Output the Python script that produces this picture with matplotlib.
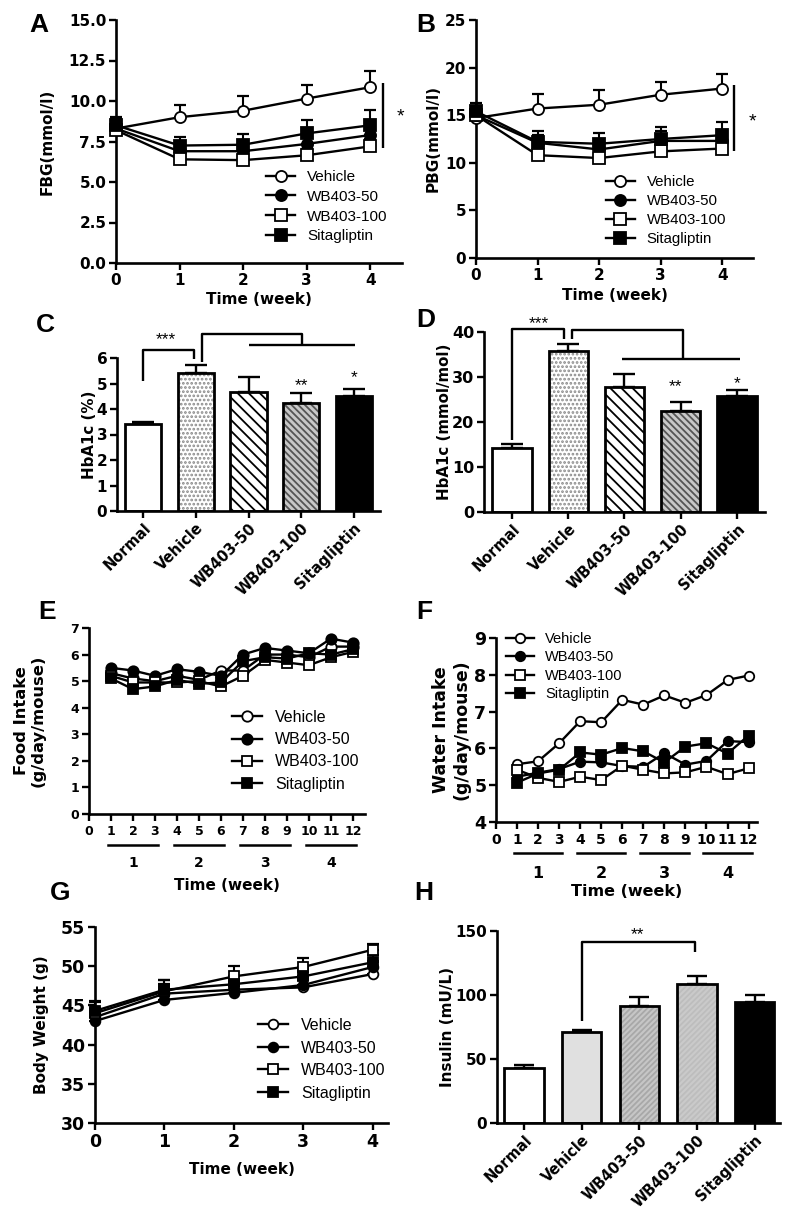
import matplotlib
matplotlib.use("Agg")
import matplotlib.pyplot as plt
from matplotlib.transforms import blended_transform_factory


plt.rcParams["font.family"] = ["DejaVu Sans"]
plt.rcParams["font.weight"] = "bold"
plt.rcParams["axes.labelweight"] = "bold"
plt.rcParams["hatch.linewidth"] = 1.3

W, H = 787, 1220
ARIAL = "Liberation Sans"

# ------------------------------------------------------------
# Data
# ------------------------------------------------------------
GROUPS = ["Vehicle", "WB403-50", "WB403-100", "Sitagliptin"]
BAR_GROUPS = ["Normal", "Vehicle", "WB403-50", "WB403-100", "Sitagliptin"]
WEEKS = [0, 1, 2, 3, 4]
DAYS = list(range(1, 13))

# A: fasting blood glucose (mmol/l)
FBG_MEAN = [
    [8.3, 9.0, 9.4, 10.15, 10.85],
    [8.3, 6.9, 6.9, 7.35, 7.9],
    [8.2, 6.4, 6.35, 6.65, 7.2],
    [8.5, 7.25, 7.3, 8.0, 8.5],
]
FBG_ERR = [
    [0.6, 0.75, 0.9, 0.85, 1.0],
    [0.4, 0.4, 0.5, 0.55, 0.6],
    [0.3, 0.3, 0.35, 0.4, 0.45],
    [0.5, 0.5, 0.65, 0.85, 0.95],
]

# B: postprandial blood glucose (mmol/l)
PBG_MEAN = [
    [14.7, 15.7, 16.1, 17.15, 17.8],
    [15.0, 12.1, 11.4, 12.3, 12.3],
    [15.0, 10.8, 10.5, 11.2, 11.5],
    [15.4, 12.2, 12.0, 12.5, 12.9],
]
PBG_ERR = [
    [0.8, 1.5, 1.5, 1.3, 1.5],
    [0.7, 0.8, 0.9, 1.0, 1.1],
    [0.6, 0.5, 0.6, 0.7, 0.7],
    [0.9, 1.1, 1.15, 1.25, 1.35],
]

# C / D: HbA1c
HBA1C_PCT = [3.42, 5.42, 4.67, 4.23, 4.51]
HBA1C_PCT_ERR = [0.08, 0.3, 0.6, 0.38, 0.28]
HBA1C_MMOL = [14.3, 35.7, 27.8, 22.4, 25.7]
HBA1C_MMOL_ERR = [0.8, 1.6, 2.9, 2.0, 1.5]

# E: food intake (g/day/mouse)
FOOD = [
    [5.3, 5.1, 5.0, 5.2, 5.05, 5.4, 5.4, 6.0, 6.0, 5.9, 6.3, 6.3],
    [5.5, 5.4, 5.2, 5.45, 5.35, 5.2, 6.0, 6.25, 6.15, 6.05, 6.6, 6.45],
    [5.2, 4.95, 4.95, 4.95, 5.0, 4.8, 5.2, 5.8, 5.7, 5.6, 5.9, 6.1],
    [5.1, 4.7, 4.8, 5.05, 4.9, 4.95, 5.75, 5.9, 5.85, 6.05, 6.0, 6.2],
]

# F: water intake (g/day/mouse)
WATER = [
    [5.57, 5.65, 6.14, 6.74, 6.71, 7.32, 7.19, 7.44, 7.24, 7.45, 7.86, 7.98],
    [5.23, 5.34, 5.44, 5.64, 5.62, 5.52, 5.5, 5.87, 5.56, 5.66, 6.2, 6.17],
    [5.42, 5.2, 5.09, 5.23, 5.14, 5.53, 5.42, 5.32, 5.35, 5.5, 5.3, 5.46],
    [5.07, 5.32, 5.42, 5.89, 5.83, 6.01, 5.92, 5.62, 6.05, 6.14, 5.86, 6.35],
]

# G: body weight (g)
BW_MEAN = [
    [43.5, 46.5, 47.0, 47.3, 49.0],
    [43.0, 45.7, 46.6, 47.6, 49.9],
    [44.0, 46.8, 48.7, 49.9, 52.1],
    [44.3, 47.0, 47.7, 48.7, 50.5],
]
BW_ERR = [
    [1.0, 1.2, 1.0, 0.9, 0.8],
    [1.0, 1.0, 0.9, 0.9, 0.8],
    [1.4, 1.4, 1.3, 1.2, 0.7],
    [1.2, 1.3, 1.0, 1.0, 0.9],
]

# H: insulin (mU/L)
INSULIN = [43.0, 70.8, 91.4, 108.9, 94.3]
INSULIN_ERR = [2.6, 2.1, 7.0, 5.7, 6.0]


# ------------------------------------------------------------
# Styles
# ------------------------------------------------------------
MARKERS = [("o", "white"), ("o", "black"), ("s", "white"), ("s", "black")]

# face, hatch, hatch colour
HBA1C_FILLS = [
    ("white", None, None),
    ("white", "....", "#8a8a8a"),
    ("white", "\\\\\\", "black"),
    ("#c8c8c8", "\\\\\\\\\\", "#555555"),
    ("black", None, None),
]
INSULIN_FILLS = [
    ("white", None, None),
    ("#e0e0e0", None, None),
    ("#c6c6c6", "//////", "#a8a8a8"),
    ("#cacaca", "//////", "#bdbdbd"),
    ("black", None, None),
]

fig = plt.figure(figsize=(W / 100, H / 100), dpi=100)


# ------------------------------------------------------------
# Helpers
# ------------------------------------------------------------
def add_axes(box):
    left, top, right, bottom = box
    ax = fig.add_axes([left / W, 1 - bottom / H, (right - left) / W, (bottom - top) / H])
    ax.box_px = box
    return ax


def frac_x(ax, px):
    left, top, right, bottom = ax.box_px
    return (px - left) / (right - left)


def frac_y(ax, py):
    left, top, right, bottom = ax.box_px
    return (bottom - py) / (bottom - top)


def style(ax, labelsize):
    for side in ["top", "right"]:
        ax.spines[side].set_visible(False)
    for side in ["left", "bottom"]:
        ax.spines[side].set_linewidth(1.9)
    ax.tick_params(width=1.7, length=5, direction="out", labelsize=labelsize, pad=2)


def set_labels(ax, xlabel, ylabel, x_px, y_px, xsize, ysize):
    if xlabel:
        ax.set_xlabel(xlabel, fontsize=xsize)
        ax.xaxis.label.set_verticalalignment("center")
        ax.xaxis.set_label_coords(0.5, frac_y(ax, y_px))
    ax.set_ylabel(ylabel, fontsize=ysize, linespacing=1.15)
    ax.yaxis.label.set_verticalalignment("center")
    ax.yaxis.set_label_coords(frac_x(ax, x_px), 0.5)


def line_panel(ax, x, means, errs=None, ms=8, capsize=4.3):
    handles = []
    for i, g in enumerate(GROUPS):
        mk, mfc = MARKERS[i]
        if errs is not None:
            eb = ax.errorbar(x, means[i], yerr=[[0] * len(x), errs[i]], fmt="none",
                             ecolor="k", elinewidth=1.5, capsize=capsize, capthick=1.6,
                             zorder=2)
            for child in eb.get_children():
                child.set_clip_on(False)
        ln, = ax.plot(x, means[i], marker=mk, mfc=mfc, mec="k", color="k", lw=1.7,
                      ms=ms, mew=1.3, clip_on=False, label=g, zorder=3 + i)
        handles.append(ln)
    return handles


def add_legend(ax, handles, x_px, y_px, size, spacing):
    ax.legend(handles=handles, loc="upper left",
              bbox_to_anchor=(x_px / W, 1 - y_px / H), bbox_transform=fig.transFigure,
              frameon=False, borderpad=0, borderaxespad=0, handlelength=1.9,
              handletextpad=0.8, labelspacing=spacing,
              prop={"family": ARIAL, "weight": "normal", "size": size})


def bar_panel(ax, values, errs, fills, width, capsize):
    x = list(range(len(values)))
    for i in x:
        face, hatch, hcol = fills[i]
        if hatch:
            ax.bar(i, values[i], width, color=face, edgecolor=hcol, hatch=hatch,
                   linewidth=0, zorder=2)
        else:
            ax.bar(i, values[i], width, color=face, linewidth=0, zorder=2)
        ax.bar(i, values[i], width, fill=False, edgecolor="k", linewidth=2.0, zorder=3)
    ax.errorbar(x, values, yerr=[[0] * len(x), errs], fmt="none", ecolor="k",
                elinewidth=1.7, capsize=capsize, capthick=1.7, zorder=1)
    ax.set_xticks(x)
    ax.set_xticklabels(BAR_GROUPS, rotation=45, ha="right", rotation_mode="anchor")


def bracket(ax, pts):
    xs = [p[0] for p in pts]
    ys = [p[1] for p in pts]
    ax.plot(xs, ys, color="k", lw=1.7, clip_on=False, solid_capstyle="butt")


def star(ax, x, y, s, size=10):
    ax.text(x, y, s, ha="center", va="center", fontsize=size, fontweight="normal",
            family=ARIAL)


def week_groups(ax, y_bar_px, y_txt_px, size):
    trans = blended_transform_factory(ax.transData, ax.transAxes)
    for wk, start in zip([1, 2, 3, 4], [1, 4, 7, 10]):
        ax.plot([start - 0.15, start + 2.15], [frac_y(ax, y_bar_px)] * 2, transform=trans,
                color="k", lw=1.8, clip_on=False)
        ax.text(start + 1, frac_y(ax, y_txt_px), str(wk), transform=trans, ha="center",
                va="center", fontsize=size, fontweight="bold")


def letter(x_px, y_px, s):
    fig.text(x_px / W, 1 - y_px / H, s, fontsize=19, fontweight="bold", ha="left",
             va="center", family=ARIAL)


# ------------------------------------------------------------
# A: FBG
# ------------------------------------------------------------
ax = add_axes((116, 20, 402, 263))
h = line_panel(ax, WEEKS, FBG_MEAN, FBG_ERR)
ax.set_xlim(0, 4.5)
ax.set_ylim(0, 15)
ax.set_xticks(WEEKS)
ax.set_yticks([0, 2.5, 5, 7.5, 10, 12.5, 15])
ax.set_yticklabels(["0.0", "2.5", "5.0", "7.5", "10.0", "12.5", "15.0"])
style(ax, 11)
set_labels(ax, "Time (week)", "FBG(mmol/l)", 47, 299, 11, 11)
add_legend(ax, h, 266, 170, 11, 0.38)
bracket(ax, [(4.2, 7.1), (4.2, 11.1)])
star(ax, 4.47, 9.0, "*", 14)
letter(29, 25, "A")

# ------------------------------------------------------------
# B: PBG
# ------------------------------------------------------------
ax = add_axes((476, 20, 753, 258))
h = line_panel(ax, WEEKS, PBG_MEAN, PBG_ERR)
ax.set_xlim(0, 4.5)
ax.set_ylim(0, 25)
ax.set_xticks(WEEKS)
ax.set_yticks([0, 5, 10, 15, 20, 25])
style(ax, 11)
set_labels(ax, "Time (week)", "PBG(mmol/l)", 433, 295, 11, 11)
add_legend(ax, h, 606, 175, 10.8, 0.33)
bracket(ax, [(4.19, 11.2), (4.19, 18.2)])
star(ax, 4.49, 14.3, "*", 14)
letter(416, 25, "B")

# ------------------------------------------------------------
# C: HbA1c (%)
# ------------------------------------------------------------
ax = add_axes((117, 358, 380, 511))
bar_panel(ax, HBA1C_PCT, HBA1C_PCT_ERR, HBA1C_FILLS, 0.69, 8)
ax.set_xlim(-0.5, 4.5)
ax.set_ylim(0, 6)
ax.set_yticks(range(0, 7))
style(ax, 11)
ax.tick_params(axis="x", labelsize=10.5)
set_labels(ax, None, "HbA1c (%)", 90, 0, 11, 10.8)
bracket(ax, [(0, 5.08), (0, 6.33), (0.97, 6.33), (0.97, 5.96)])
bracket(ax, [(1.11, 5.84), (1.11, 6.96), (3.02, 6.96), (3.02, 6.5)])
bracket(ax, [(2.0, 6.5), (4.03, 6.5)])
star(ax, 0.43, 6.72, "***", 12.5)
star(ax, 3.0, 4.92, "**", 12.5)
star(ax, 4.0, 5.24, "*", 12.5)
letter(36, 325, "C")

# ------------------------------------------------------------
# D: HbA1c (mmol/mol)
# ------------------------------------------------------------
ax = add_axes((484, 332, 765, 512))
bar_panel(ax, HBA1C_MMOL, HBA1C_MMOL_ERR, HBA1C_FILLS, 0.70, 8)
ax.set_xlim(-0.5, 4.5)
ax.set_ylim(0, 40)
ax.set_yticks(range(0, 41, 10))
style(ax, 11.5)
ax.tick_params(axis="x", labelsize=10.5)
set_labels(ax, None, "HbA1c (mmol/mol)", 445, 0, 11, 10.8)
bracket(ax, [(0, 15.9), (0, 40.7), (0.92, 40.7), (0.92, 38.5)])
bracket(ax, [(1.06, 38.5), (1.06, 40.5), (3.04, 40.5), (3.04, 34.1)])
bracket(ax, [(1.96, 34.1), (4.05, 34.1)])
star(ax, 0.47, 41.8, "***", 12.5)
star(ax, 2.9, 27.8, "**", 12.5)
star(ax, 4.0, 28.5, "*", 12.5)
letter(416, 320, "D")

# ------------------------------------------------------------
# E: food intake
# ------------------------------------------------------------
ax = add_axes((89, 628, 365, 814))
h = line_panel(ax, DAYS, FOOD, None, ms=7.5)
ax.set_xlim(0, 12.55)
ax.set_ylim(0, 7)
ax.set_xticks(range(0, 13))
ax.set_yticks(range(0, 8))
style(ax, 9)
ax.tick_params(axis="x", labelsize=9, pad=3)
set_labels(ax, "Time (week)", "Food Intake\n(g/day/mouse)", 30, 886, 11, 11.8)
add_legend(ax, h, 232, 710, 11.5, 0.45)
week_groups(ax, 845, 863, 10)
letter(38, 612, "E")

# ------------------------------------------------------------
# F: water intake
# ------------------------------------------------------------
ax = add_axes((496, 638, 757, 822))
h = line_panel(ax, DAYS, WATER, None, ms=6.8)
ax.set_xlim(0, 12.4)
ax.set_ylim(4, 9)
ax.set_xticks(range(0, 13))
ax.set_yticks(range(4, 10))
style(ax, 12.5)
ax.tick_params(axis="x", labelsize=10, pad=3)
set_labels(ax, "Time (week)", "Water Intake\n(g/day/mouse)", 451, 892, 11.5, 12.5)
add_legend(ax, h, 506, 632, 10.5, 0.3)
week_groups(ax, 853, 873, 11.5)
letter(416, 612, "F")

# ------------------------------------------------------------
# G: body weight
# ------------------------------------------------------------
ax = add_axes((95, 927, 388, 1123))
h = line_panel(ax, WEEKS, BW_MEAN, BW_ERR, ms=7)
ax.set_xlim(0, 4.22)
ax.set_ylim(30, 55)
ax.set_xticks(WEEKS)
ax.set_yticks(range(30, 56, 5))
style(ax, 12.5)
set_labels(ax, "Time (week)", "Body Weight (g)", 42, 1170, 11, 11)
add_legend(ax, h, 258, 1018, 11.5, 0.47)
letter(50, 893, "G")

# ------------------------------------------------------------
# H: insulin
# ------------------------------------------------------------
ax = add_axes((497, 931, 780, 1123))
bar_panel(ax, INSULIN, INSULIN_ERR, INSULIN_FILLS, 0.68, 7)
ax.set_xlim(-0.47, 4.44)
ax.set_ylim(0, 150)
ax.set_yticks([0, 50, 100, 150])
style(ax, 11)
ax.tick_params(axis="x", labelsize=10.5)
set_labels(ax, None, "Insulin (mU/L)", 447, 0, 11, 11)
bracket(ax, [(1, 80), (1, 141.4), (2.96, 141.4), (2.96, 133.6)])
star(ax, 1.96, 147.5, "**", 12.5)
letter(414, 893, "H")

fig.savefig("out.png", dpi=100)
